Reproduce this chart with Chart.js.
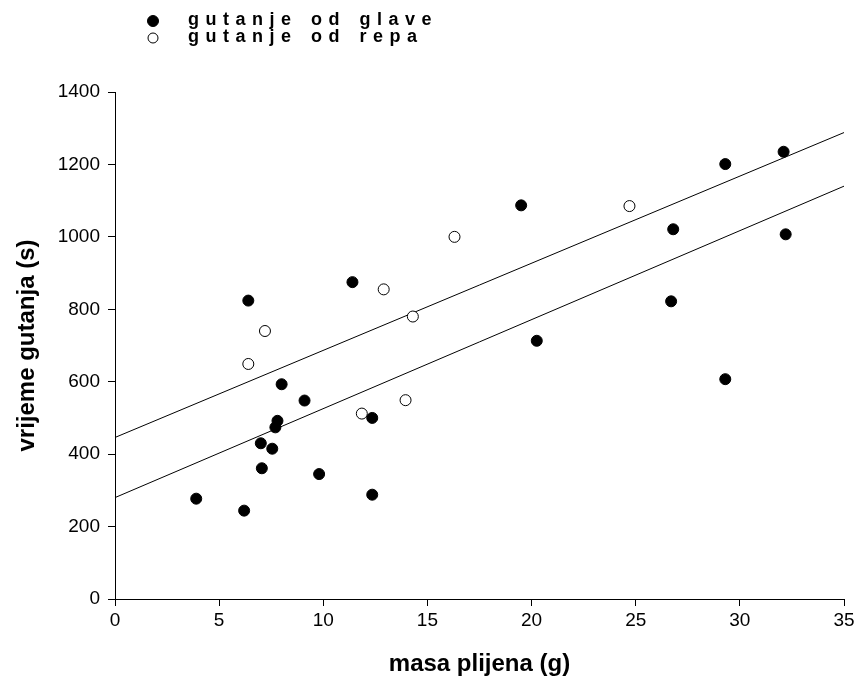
<!DOCTYPE html>
<html>
<head>
<meta charset="utf-8">
<title>Vrijeme gutanja</title>
<script src="https://cdn.jsdelivr.net/npm/chart.js@4.4.0/dist/chart.umd.min.js"></script>
<style>
  html, body { margin: 0; padding: 0; background: #fff; }
  #okvir { width: 860px; height: 684px; }
</style>
</head>
<body>
<div id="okvir"><canvas id="graf"></canvas></div>
<script>
// gutanje od glave: masa plijena (g) i vrijeme gutanja (s)
const glaveMasa    = [3.9, 6.2, 6.4, 7.0, 7.05, 7.55, 7.7, 7.8, 8.0, 9.1, 9.8, 11.4, 12.35, 12.35, 19.5, 20.25, 26.7, 26.8, 29.3, 29.3, 32.1, 32.2];
const glaveVrijeme = [277, 244, 824, 430, 361, 415, 474, 492, 593, 548, 345, 875, 500, 288, 1087, 713, 822, 1021, 1201, 607, 1235, 1007];

// gutanje od repa
const repaMasa    = [6.4, 7.2, 11.85, 12.9, 13.95, 14.3, 16.3, 24.7];
const repaVrijeme = [649, 740, 512, 855, 549, 780, 1000, 1085];

// regresijski pravci, vrijednosti na krajevima osi x
const pravacX     = [0, 35];
const pravacGlave = [280, 1140];
const pravacRepa  = [446, 1288];

const oznakeX = [0, 5, 10, 15, 20, 25, 30, 35];
const oznakeY = [0, 200, 400, 600, 800, 1000, 1200, 1400];

const FONT = 'Arial, "Liberation Sans", sans-serif';

function tocke(xs, ys) {
  return xs.map((x, i) => ({ x: x, y: ys[i] }));
}

// legenda gore lijevo, slova razmaknuta
const legenda = {
  id: 'legenda',
  afterDraw(chart) {
    const ctx = chart.ctx;
    ctx.save();
    ctx.font = 'bold 18px ' + FONT;
    ctx.letterSpacing = '6.5px';
    ctx.wordSpacing = '2px';
    ctx.textBaseline = 'alphabetic';
    [0, 1].forEach(i => {
      const ds = chart.data.datasets[i];
      const y = 21 + i * 17;
      ctx.beginPath();
      ctx.arc(153, y, i === 0 ? 5.5 : 5, 0, Math.PI * 2);
      ctx.fillStyle = ds.backgroundColor;
      ctx.fill();
      ctx.lineWidth = 1;
      ctx.strokeStyle = '#000';
      ctx.stroke();
      ctx.fillStyle = '#000';
      ctx.fillText(ds.label, 188, y + 4);
    });
    ctx.restore();
  }
};

function os(oznake) {
  return function (scale) {
    scale.ticks = oznake.map(v => ({ value: v }));
  };
}

new Chart(document.getElementById('graf'), {
  type: 'scatter',
  data: {
    datasets: [
      {
        label: 'gutanje od glave',
        data: tocke(glaveMasa, glaveVrijeme),
        backgroundColor: '#000',
        borderColor: '#000',
        borderWidth: 1,
        pointRadius: 5.5,
        order: 1
      },
      {
        label: 'gutanje od repa',
        data: tocke(repaMasa, repaVrijeme),
        backgroundColor: '#fff',
        borderColor: '#000',
        borderWidth: 1,
        pointRadius: 5.5,
        order: 1
      },
      {
        label: 'pravac glave',
        data: tocke(pravacX, pravacGlave),
        showLine: true,
        borderColor: '#000',
        borderWidth: 1,
        pointRadius: 0,
        order: 2
      },
      {
        label: 'pravac repa',
        data: tocke(pravacX, pravacRepa),
        showLine: true,
        borderColor: '#000',
        borderWidth: 1,
        pointRadius: 0,
        order: 2
      }
    ]
  },
  options: {
    responsive: true,
    maintainAspectRatio: false,
    animation: false,
    layout: { padding: { top: 92, right: 16, bottom: 0, left: 0 } },
    plugins: {
      legend: { display: false },
      tooltip: { enabled: false }
    },
    scales: {
      x: {
        type: 'linear',
        min: 0,
        max: 35,
        afterBuildTicks: os(oznakeX),
        afterFit(scale) { scale.height = 85; },
        border: { display: true, color: '#000', width: 1 },
        grid: { drawOnChartArea: false, drawTicks: true, tickLength: 7, color: '#000' },
        ticks: { color: '#000', padding: 3, font: { family: FONT, size: 19 }, callback: v => String(v) },
        title: {
          display: true,
          text: 'masa plijena (g)',
          color: '#000',
          padding: { top: 0, bottom: 5 },
          font: { family: FONT, size: 24, weight: 'bold' }
        }
      },
      y: {
        type: 'linear',
        min: 0,
        max: 1400,
        afterBuildTicks: os(oznakeY),
        afterFit(scale) { scale.width = 115; },
        border: { display: true, color: '#000', width: 1 },
        grid: { drawOnChartArea: false, drawTicks: true, tickLength: 7, color: '#000' },
        ticks: { color: '#000', padding: 8, font: { family: FONT, size: 19 }, callback: v => String(v) },
        title: {
          display: true,
          text: 'vrijeme gutanja (s)',
          color: '#000',
          padding: { top: 13, bottom: 0 },
          font: { family: FONT, size: 24, weight: 'bold' }
        }
      }
    }
  },
  plugins: [legenda]
});
</script>
</body>
</html>
